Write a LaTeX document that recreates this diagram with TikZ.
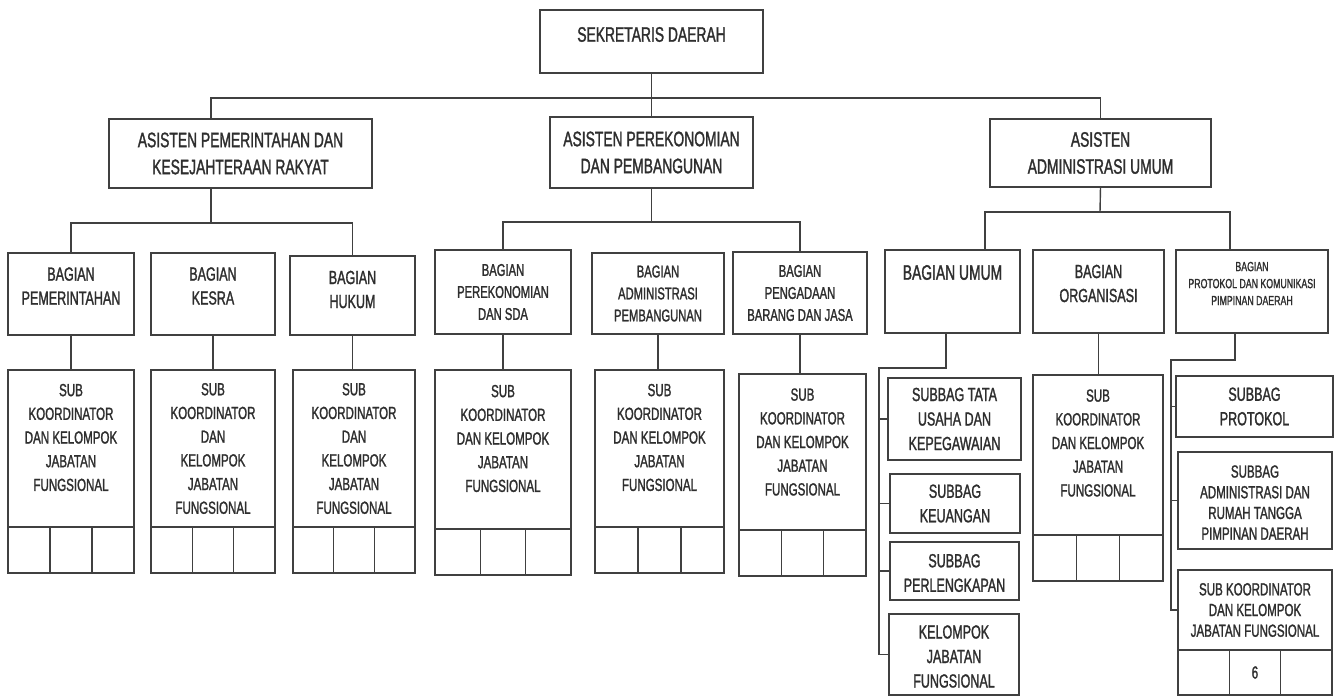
\documentclass[tikz,border=0pt]{standalone}
\usepackage{fontspec}
\newfontfamily\orgfont{Liberation Sans}[FakeStretch=0.66, FakeBold=1.4]
\usetikzlibrary{positioning}

\tikzset{
  orgbox/.style={draw=black!75, line width=1.4pt, inner sep=0pt, outer sep=0pt, anchor=north west},
  cellbox/.style={orgbox, minimum height=46},
  orgline/.style={draw=black!75, line width=1.4pt},
  orgtext/.style={align=center, inner sep=0pt, text=black!82},
  fbig/.style={orgtext, font=\orgfont\fontsize{21}{27}\selectfont},
  fbag/.style={orgtext, font=\orgfont\fontsize{19}{24}\selectfont},
  fbagk/.style={orgtext, font=\orgfont\fontsize{17}{22}\selectfont},
  fprot/.style={orgtext, font=\orgfont\fontsize{13.3}{17}\selectfont},
  fsub/.style={orgtext, font=\orgfont\fontsize{17.5}{23.7}\selectfont},
  fsubbag/.style={orgtext, font=\orgfont\fontsize{19}{24.5}\selectfont},
  fsubr/.style={orgtext, font=\orgfont\fontsize{17.5}{20.7}\selectfont}
}

\begin{document}
\begin{tikzpicture}[x=1pt, y=-1pt]
\useasboundingbox (0,0) rectangle (1336,698);

% top level
\node[orgbox, minimum width=223, minimum height=63] (sekda) at (540,10) {};
\node[fbig] (sekdat) at ([yshift=7]sekda.center) {SEKRETARIS DAERAH};

\node[orgbox, minimum width=263, minimum height=69] (as1) at (109,119) {};
\node[fbig] (as1t) at (as1.center) {ASISTEN PEMERINTAHAN DAN\\KESEJAHTERAAN RAKYAT};
\node[orgbox, minimum width=203, minimum height=71] (as2) at (550,117) {};
\node[fbig] (as2t) at (as2.center) {ASISTEN PEREKONOMIAN\\DAN PEMBANGUNAN};
\node[orgbox, minimum width=221, minimum height=68] (as3) at (990,119) {};
\node[fbig] (as3t) at (as3.center) {ASISTEN\\ADMINISTRASI UMUM};

% bagian
\node[orgbox, minimum width=126, minimum height=82] (bpem) at (8,253) {};
\node[fbag] (bpemt) at ([yshift=8]bpem.center) {BAGIAN\\PEMERINTAHAN};
\node[orgbox, minimum width=124, minimum height=82] (bkesra) at (151,253) {};
\node[fbag] (bkesrat) at ([yshift=8]bkesra.center) {BAGIAN\\KESRA};
\node[orgbox, minimum width=125, minimum height=79] (bhukum) at (290,256) {};
\node[fbag] (bhukumt) at ([yshift=6]bhukum.center) {BAGIAN\\HUKUM};

\node[orgbox, minimum width=136, minimum height=84] (bekon) at (435,250) {};
\node[fbagk] (bekont) at (bekon.center) {BAGIAN\\PEREKONOMIAN\\DAN SDA};
\node[orgbox, minimum width=132, minimum height=81] (badm) at (592,253) {};
\node[fbagk] (badmt) at (badm.center) {BAGIAN\\ADMINISTRASI\\PEMBANGUNAN};
\node[orgbox, minimum width=134, minimum height=82] (bpbj) at (733,252) {};
\node[fbagk] (bpbjt) at (bpbj.center) {BAGIAN\\PENGADAAN\\BARANG DAN JASA};

\node[orgbox, minimum width=135, minimum height=83] (bumum) at (885,250) {};
\node[fbig] (bumumt) at ([yshift=19]bumum.center) {BAGIAN UMUM};
\node[orgbox, minimum width=131, minimum height=83] (borg) at (1033,250) {};
\node[fbag] (borgt) at ([yshift=8]borg.center) {BAGIAN\\ORGANISASI};
\node[orgbox, minimum width=152, minimum height=83] (bprot) at (1176,250) {};
\node[fprot] (bprott) at ([yshift=8]bprot.center) {BAGIAN\\PROTOKOL DAN KOMUNIKASI\\PIMPINAN DAERAH};

% sub koordinator
\node[orgbox, minimum width=126, minimum height=157] (spem) at (8,370) {};
\node[fsub] (spemt) at ([yshift=11]spem.center) {SUB\\KOORDINATOR\\DAN KELOMPOK\\JABATAN\\FUNGSIONAL};
\node[orgbox, minimum width=124, minimum height=157] (skesra) at (151,370) {};
\node[fsub] (skesrat) at (skesra.center) {SUB\\KOORDINATOR\\DAN\\KELOMPOK\\JABATAN\\FUNGSIONAL};
\node[orgbox, minimum width=122, minimum height=157] (shukum) at (293,370) {};
\node[fsub] (shukumt) at (shukum.center) {SUB\\KOORDINATOR\\DAN\\KELOMPOK\\JABATAN\\FUNGSIONAL};
\node[orgbox, minimum width=136, minimum height=159] (sekon) at (435,370) {};
\node[fsub] (sekont) at ([yshift=11]sekon.center) {SUB\\KOORDINATOR\\DAN KELOMPOK\\JABATAN\\FUNGSIONAL};
\node[orgbox, minimum width=129, minimum height=157] (sadm) at (595,370) {};
\node[fsub] (sadmt) at ([yshift=11]sadm.center) {SUB\\KOORDINATOR\\DAN KELOMPOK\\JABATAN\\FUNGSIONAL};
\node[orgbox, minimum width=127, minimum height=156] (spbj) at (739,374) {};
\node[fsub] (spbjt) at ([yshift=10]spbj.center) {SUB\\KOORDINATOR\\DAN KELOMPOK\\JABATAN\\FUNGSIONAL};
\node[orgbox, minimum width=130, minimum height=160] (sorg) at (1033,375) {};
\node[fsub] (sorgt) at ([yshift=12]sorg.center) {SUB\\KOORDINATOR\\DAN KELOMPOK\\JABATAN\\FUNGSIONAL};

% subbag umum
\node[orgbox, minimum width=133, minimum height=82] (stu) at (888,378) {};
\node[fsubbag] (stut) at (stu.center) {SUBBAG TATA\\USAHA DAN\\KEPEGAWAIAN};
\node[orgbox, minimum width=130, minimum height=59] (skeu) at (890,474) {};
\node[fsubbag] (skeut) at (skeu.center) {SUBBAG\\KEUANGAN};
\node[orgbox, minimum width=129, minimum height=58] (sperl) at (890,542) {};
\node[fsubbag] (sperlt) at ([yshift=-2]sperl.center) {SUBBAG\\PERLENGKAPAN};
\node[orgbox, minimum width=130, minimum height=81] (skjf) at (889,614) {};
\node[fsubbag] (skjft) at ([yshift=-2]skjf.center) {KELOMPOK\\JABATAN\\FUNGSIONAL};

% subbag protokol
\node[orgbox, minimum width=157, minimum height=61] (sprot) at (1176,376) {};
\node[fsubbag] (sprott) at (sprot.center) {SUBBAG\\PROTOKOL};
\node[orgbox, minimum width=154, minimum height=97] (sadmr) at (1178,452) {};
\node[fsubr] (sadmrt) at ([yshift=-2]sadmr.center) {SUBBAG\\ADMINISTRASI DAN\\RUMAH TANGGA\\PIMPINAN DAERAH};
\node[orgbox, minimum width=154, minimum height=80] (skoord) at (1178,570) {};
\node[fsubr] (skoordt) at (skoord.center) {SUB KOORDINATOR\\DAN KELOMPOK\\JABATAN FUNGSIONAL};

% cells
\node[cellbox, minimum width=42] (spem1) at (spem.south west) {};
\node[cellbox, minimum width=42, right=0pt of spem1] (spem2) {};
\node[cellbox, minimum width=42, right=0pt of spem2] (spem3) {};
\node[cellbox, minimum width=41.3] (skesra1) at (skesra.south west) {};
\node[cellbox, minimum width=41.3, right=0pt of skesra1] (skesra2) {};
\node[cellbox, minimum width=41.3, right=0pt of skesra2] (skesra3) {};
\node[cellbox, minimum width=40.7] (shukum1) at (shukum.south west) {};
\node[cellbox, minimum width=40.7, right=0pt of shukum1] (shukum2) {};
\node[cellbox, minimum width=40.7, right=0pt of shukum2] (shukum3) {};
\node[cellbox, minimum width=45.3] (sekon1) at (sekon.south west) {};
\node[cellbox, minimum width=45.3, right=0pt of sekon1] (sekon2) {};
\node[cellbox, minimum width=45.3, right=0pt of sekon2] (sekon3) {};
\node[cellbox, minimum width=43] (sadm1) at (sadm.south west) {};
\node[cellbox, minimum width=43, right=0pt of sadm1] (sadm2) {};
\node[cellbox, minimum width=43, right=0pt of sadm2] (sadm3) {};
\node[cellbox, minimum width=42.3] (spbj1) at (spbj.south west) {};
\node[cellbox, minimum width=42.3, right=0pt of spbj1] (spbj2) {};
\node[cellbox, minimum width=42.3, right=0pt of spbj2] (spbj3) {};
\node[cellbox, minimum width=43.3] (sorg1) at (sorg.south west) {};
\node[cellbox, minimum width=43.3, right=0pt of sorg1] (sorg2) {};
\node[cellbox, minimum width=43.3, right=0pt of sorg2] (sorg3) {};
\node[cellbox, minimum width=51.3, minimum height=45] (skoord1) at (skoord.south west) {};
\node[cellbox, minimum width=51.3, minimum height=45, right=0pt of skoord1, fsubr] (skoord2) {6};
\node[cellbox, minimum width=51.3, minimum height=45, right=0pt of skoord2] (skoord3) {};

% connectors
\coordinate (tapA) at (211,98);
\coordinate (busA) at (211,223);
\coordinate (busB) at (651.5,222);
\coordinate (busC) at (1100,212);
\coordinate (tapU) at (985,212);
\coordinate (tapP) at (1230,212);
\coordinate (uA) at (946,368);
\coordinate (uB) at (879,368);
\coordinate (pA) at (1235,360);
\coordinate (pB) at (1171,360);

\draw[orgline] (sekda.south) -- (as2.north);
\draw[orgline] (tapA |- as1.north) -- (tapA) -| (as3.north);
\draw[orgline] (busA |- as1.south) -- (busA);
\draw[orgline] (bpem.north) |- (busA) -| (bhukum.north);
\draw[orgline] (as2.south) -- (busB);
\draw[orgline] (bekon.north) |- (busB) -| (bpbj.north);
\draw[orgline] (as3.south) -- (busC);
\draw[orgline] (tapU |- bumum.north) -- (tapU) -- (tapP) -- (tapP |- bprot.north);

\draw[orgline] (bpem.south) -- (bpem.south |- spem.north);
\draw[orgline] (bkesra.south) -- (bkesra.south |- skesra.north);
\draw[orgline] (bhukum.south) -- (bhukum.south |- shukum.north);
\draw[orgline] (bekon.south) -- (bekon.south |- sekon.north);
\draw[orgline] (badm.south) -- (badm.south |- sadm.north);
\draw[orgline] (bpbj.south) -- (bpbj.south |- spbj.north);
\draw[orgline] (borg.south) -- (borg.south |- sorg.north);

\draw[orgline] (uA |- bumum.south) -- (uA) -- (uB) |- (skjf.west);
\draw[orgline] (uB |- stu.west) -- (stu.west);
\draw[orgline] (uB |- skeu.west) -- (skeu.west);
\draw[orgline] (uB |- sperl.west) -- (sperl.west);

\draw[orgline] (pA |- bprot.south) -- (pA) -- (pB) |- (skoord.west);
\draw[orgline] (pB |- sprot.west) -- (sprot.west);
\draw[orgline] (pB |- sadmr.west) -- (sadmr.west);
\end{tikzpicture}
\end{document}
